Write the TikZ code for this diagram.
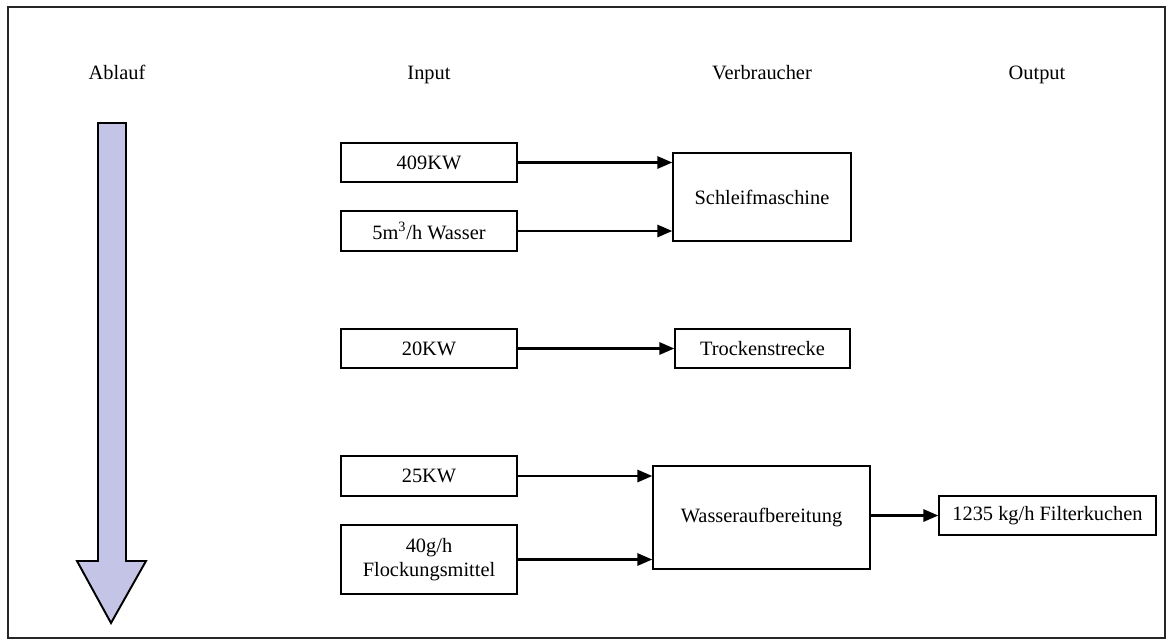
\documentclass[tikz,border=0pt]{standalone}
\usepackage{fontspec}
\setmainfont{Liberation Serif}
\usetikzlibrary{arrows.meta}
\definecolor{lav}{RGB}{196,196,230}
\tikzset{
  pbox/.style={draw=black, line width=0.85pt, inner sep=0pt, align=center, font=\fontsize{11.6}{13.8}\selectfont},
  conn/.style={line width=1.2pt, -{Triangle[length=8.5pt,width=7pt]}},
  head/.style={font=\fontsize{11.6}{13.8}\selectfont, inner sep=0pt, anchor=base}
}
\begin{document}
\begin{tikzpicture}[x=0.02cm,y=-0.02cm]
\useasboundingbox (0,0) rectangle (1166,640);
% frame
\draw[black!85, line width=0.85pt] (8,7) rectangle (1165,638);
% headers
\node[head] (hA) at (117,79) {Ablauf};
\node[head] (hI) at (429,79) {Input};
\node[head] (hV) at (762,79) {Verbraucher};
\node[head] (hO) at (1037,79) {Output};
% flow arrow
\draw[fill=lav, line width=1.1pt, line join=miter]
  (98,123) -- (126,123) -- (126,561) -- (146,561) -- (111,623) -- (77,561) -- (98,561) -- cycle;
% input boxes
\node[pbox, minimum width=176*0.02cm, minimum height=39*0.02cm] (i1) at (429,162.5) {409KW};
\node[pbox, minimum width=176*0.02cm, minimum height=40*0.02cm] (i2) at (429,231) {5m\textsuperscript{3}/h Wasser};
\node[pbox, minimum width=176*0.02cm, minimum height=39*0.02cm] (i3) at (429,348.5) {20KW};
\node[pbox, minimum width=176*0.02cm, minimum height=40*0.02cm] (i4) at (429,476) {25KW};
\node[pbox, minimum width=176*0.02cm, minimum height=69*0.02cm] (i5) at (429,559.5) {40g/h\\Flockungsmittel};
% consumers
\node[pbox, minimum width=178*0.02cm, minimum height=88*0.02cm] (s) at (762,197) {Schleifmaschine};
\node[pbox, minimum width=175*0.02cm, minimum height=39*0.02cm] (t) at (762.5,348.5) {Trockenstrecke};
\node[pbox, minimum width=217*0.02cm, minimum height=103*0.02cm] (w) at (761.5,517.5) {Wasseraufbereitung};
% output
\node[pbox, minimum width=217*0.02cm, minimum height=39*0.02cm] (o) at (1047.5,515.5) {1235 kg/h Filterkuchen};
% connectors
\draw[conn] (i1.east) -- (s.west |- i1.east);
\draw[conn] (i2.east) -- (s.west |- i2.east);
\draw[conn] (i3.east) -- (t.west |- i3.east);
\draw[conn] (i4.east) -- (w.west |- i4.east);
\draw[conn] (i5.east) -- (w.west |- i5.east);
\draw[conn] (w.east |- o.west) -- (o.west);
\end{tikzpicture}
\end{document}
